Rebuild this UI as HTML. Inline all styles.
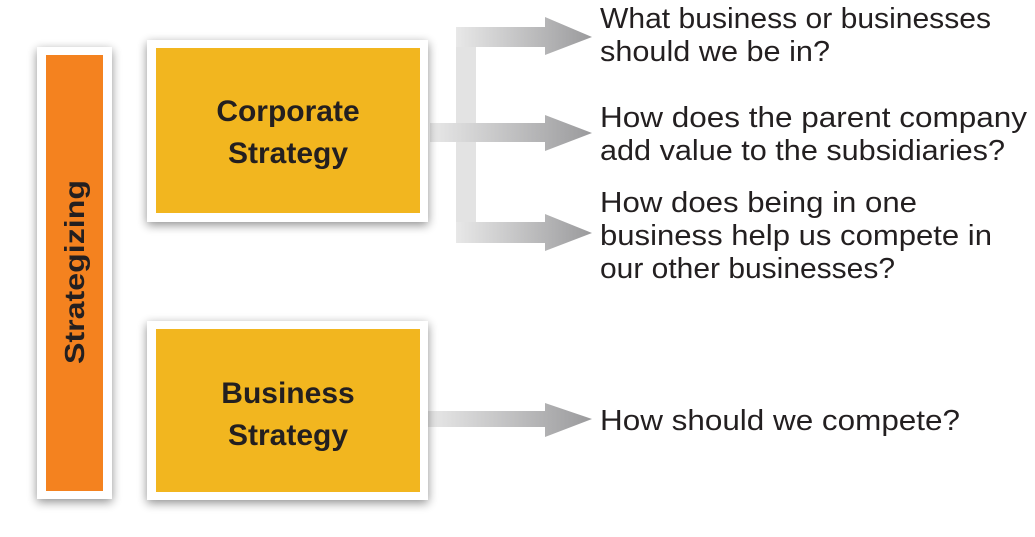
<!DOCTYPE html>
<html><head><meta charset="utf-8"><style>
html,body{margin:0;padding:0;background:#fff;width:1035px;height:537px;overflow:hidden}
</style></head><body>
<svg width="1035" height="537" viewBox="0 0 1035 537" xmlns="http://www.w3.org/2000/svg">
<defs>
<linearGradient id="g" x1="0" x2="1" y1="0" y2="0">
<stop offset="0" stop-color="#e8e8e8"/><stop offset="1" stop-color="#9a9a9c"/>
</linearGradient>
<filter id="sh" x="-20%" y="-20%" width="140%" height="140%">
<feGaussianBlur in="SourceAlpha" stdDeviation="5"/><feOffset dx="0" dy="3"/>
<feComponentTransfer><feFuncA type="linear" slope="0.45"/></feComponentTransfer>
<feMerge><feMergeNode/><feMergeNode in="SourceGraphic"/></feMerge>
</filter>
</defs>
<rect x="456" y="27" width="20" height="216" fill="#e3e3e3"/>
<path d="M456 27 H545 V17 L592 37 L545 55 V47 H456 Z" fill="url(#g)"/>
<path d="M430 123 H545 V115 L592 133 L545 151 V142 H430 Z" fill="url(#g)"/>
<path d="M456 222 H545 V214 L592 233 L545 251 V243 H456 Z" fill="url(#g)"/>
<path d="M428 411 H545 V403 L592 419 L545 437 V427 H428 Z" fill="url(#g)"/>
<g filter="url(#sh)"><rect x="37" y="47" width="75" height="452" fill="#fff"/></g>
<rect x="46" y="55" width="57" height="436" fill="#f4821f"/>
<text x="0" y="0" transform="translate(84,272) rotate(-90)" text-anchor="middle" font-family="Liberation Sans, sans-serif" font-weight="bold" font-size="28" fill="#231f20" textLength="184" lengthAdjust="spacingAndGlyphs">Strategizing</text>
<g filter="url(#sh)"><rect x="147" y="40" width="281" height="182" fill="#fff"/></g>
<rect x="156" y="48" width="264" height="165" fill="#f2b61f"/>
<text font-family="Liberation Sans, sans-serif" font-weight="bold" font-size="30" fill="#231f20" text-anchor="middle">
<tspan x="288" y="121">Corporate</tspan><tspan x="288" y="163">Strategy</tspan></text>
<g filter="url(#sh)"><rect x="147" y="321" width="281" height="179" fill="#fff"/></g>
<rect x="156" y="329" width="264" height="163" fill="#f2b61f"/>
<text font-family="Liberation Sans, sans-serif" font-weight="bold" font-size="30" fill="#231f20" text-anchor="middle">
<tspan x="288" y="403">Business</tspan><tspan x="288" y="445">Strategy</tspan></text>
<g font-family="Liberation Sans, sans-serif" font-size="29" fill="#231f20">
<text x="600" y="28" textLength="391" lengthAdjust="spacingAndGlyphs">What business or businesses</text>
<text x="600" y="61" textLength="230" lengthAdjust="spacingAndGlyphs">should we be in?</text>
<text x="600" y="127" textLength="427" lengthAdjust="spacingAndGlyphs">How does the parent company</text>
<text x="600" y="160" textLength="405" lengthAdjust="spacingAndGlyphs">add value to the subsidiaries?</text>
<text x="600" y="212" textLength="317" lengthAdjust="spacingAndGlyphs">How does being in one</text>
<text x="600" y="245" textLength="392" lengthAdjust="spacingAndGlyphs">business help us compete in</text>
<text x="600" y="278" textLength="295" lengthAdjust="spacingAndGlyphs">our other businesses?</text>
<text x="600" y="430" textLength="360" lengthAdjust="spacingAndGlyphs">How should we compete?</text>
</g>
</svg>
</body></html>
